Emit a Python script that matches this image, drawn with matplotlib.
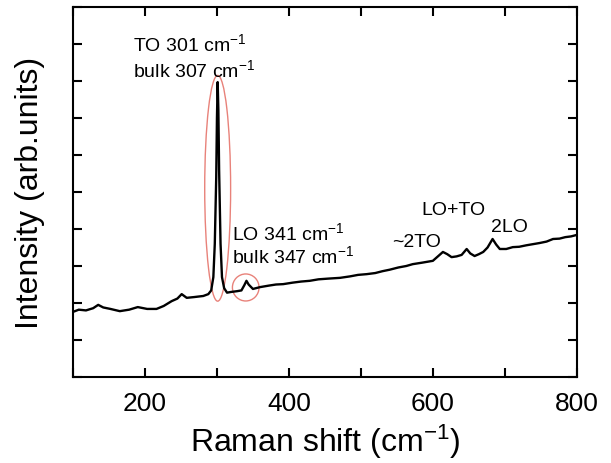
import matplotlib
matplotlib.use('Agg')
import matplotlib.pyplot as plt
from matplotlib.patches import Ellipse

plt.rcParams['font.family'] = ['Liberation Sans', 'DejaVu Sans']
plt.rcParams['mathtext.default'] = 'regular'

# Raman spectrum (x in cm-1, y in arbitrary units)
shift = [100, 108, 118, 128, 135, 142, 152, 165, 178, 190, 203, 216, 226, 237,
         245, 251, 258, 268, 281, 288, 292, 295, 297, 299, 300, 301, 302, 303,
         305, 307, 310, 314, 320, 328, 334, 338, 341, 344, 350, 360, 372, 382,
         392, 405, 417, 429, 441, 455, 471, 485, 496, 508, 520, 530, 540, 552,
         563, 572, 585, 600, 607, 614, 620, 626, 633, 640, 647, 652, 658, 664,
         670, 676, 683, 688, 693, 702, 711, 720, 730, 739, 748, 758, 767, 776,
         784, 792, 800]
intensity = [1.76, 1.82, 1.80, 1.86, 1.95, 1.88, 1.84, 1.78, 1.82, 1.89, 1.84,
             1.84, 1.92, 2.05, 2.12, 2.24, 2.14, 2.16, 2.19, 2.24, 2.34, 2.7,
             3.6, 5.4, 7.0, 7.97, 7.2, 5.6, 3.6, 2.7, 2.4, 2.28, 2.3, 2.32,
             2.34, 2.48, 2.6, 2.5, 2.38, 2.43, 2.47, 2.5, 2.51, 2.55, 2.58,
             2.6, 2.64, 2.66, 2.68, 2.72, 2.76, 2.78, 2.81, 2.86, 2.9, 2.96,
             3.0, 3.05, 3.09, 3.14, 3.26, 3.38, 3.32, 3.24, 3.26, 3.3, 3.46,
             3.34, 3.27, 3.32, 3.38, 3.5, 3.73, 3.58, 3.46, 3.46, 3.51, 3.52,
             3.56, 3.59, 3.62, 3.66, 3.73, 3.74, 3.78, 3.8, 3.84]

x_ticks = [100, 200, 300, 400, 500, 600, 700, 800]
x_tick_labels = ['', '200', '', '400', '', '600', '', '800']

fig = plt.figure(figsize=(6.11, 4.64), dpi=100)
ax = fig.add_axes([0.1195, 0.1853, 0.8245, 0.7975])

ax.plot(shift, intensity, color='black', lw=1.7)

ax.add_patch(Ellipse((301, 5.1), 36, 6.1, fill=False, ec='#e8827a', lw=1))
ax.add_patch(Ellipse((340, 2.42), 37, 0.73, fill=False, ec='#e8827a', lw=1))

fs = 14
ax.text(183, 8.84, 'TO 301 cm$^{-1}$', fontsize=fs)
ax.text(183, 8.14, 'bulk 307 cm$^{-1}$', fontsize=fs)
ax.text(321, 3.73, 'LO 341 cm$^{-1}$', fontsize=fs)
ax.text(321, 3.10, 'bulk 347 cm$^{-1}$', fontsize=fs)
ax.text(543, 3.54, '~2TO', fontsize=fs)
ax.text(584, 4.40, 'LO+TO', fontsize=fs)
ax.text(681, 3.95, '2LO', fontsize=fs)

ax.set_xlim(100, 800)
ax.set_ylim(0, 10)
ax.set_xticks(x_ticks)
ax.set_xticklabels(x_tick_labels)
ax.set_yticks(range(0, 11))
ax.set_yticklabels([])
ax.tick_params(direction='in', length=6.5, width=1.5, top=True, right=True,
               labelsize=19, pad=10)
for sp in ax.spines.values():
    sp.set_linewidth(1.5)

ax.set_xlabel('Raman shift (cm$^{-1}$)', fontsize=23, labelpad=5)
ax.set_ylabel('Intensity (arb.units)', fontsize=23, labelpad=10)

fig.savefig('out.png', dpi=100)
